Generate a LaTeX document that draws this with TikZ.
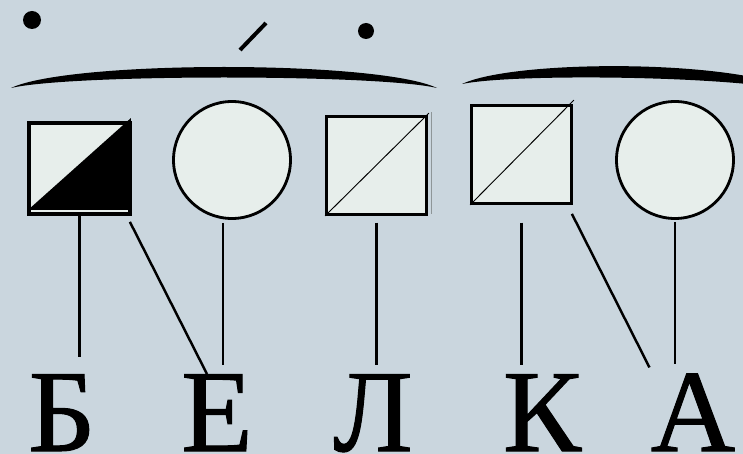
\documentclass[tikz,border=0pt]{standalone}
\usepackage{fontspec}
\setmainfont{Liberation Serif}
\newfontfamily\letterfont[FakeBold=0.9]{Liberation Serif}
\usepackage{xcolor}
\usetikzlibrary{calc}
\definecolor{cBack}{HTML}{CAD6DE}
\definecolor{cPaper}{HTML}{E7EEEB}
\definecolor{cInk}{HTML}{000000}
\definecolor{cShade}{HTML}{8E9698}
\tikzset{
  sch/sq/.style    ={draw=cInk, line width=2.4pt, fill=cPaper, inner sep=0pt,
                     minimum width=3.0cm, minimum height=2.94cm},
  sch/vow/.style   ={circle, draw=cInk, line width=2.4pt, fill=cPaper,
                     inner sep=0pt, minimum size=3.51cm},
  sch/letter/.style={font=\letterfont\fontsize{100pt}{100pt}\selectfont,
                     inner sep=0pt, anchor=base, cInk},
  sch/link/.style  ={cInk, line width=2.1pt},
  sch/diag/.style  ={cInk, line width=0.8pt},
  sch/arc/.style   ={fill=cInk},
  sch/dot/.style   ={fill=cInk}
}

\begin{document}
\begin{tikzpicture}[x=0.03cm, y=-0.03cm]
    % background and frame
    \fill[cBack] (0,0) rectangle (743,454);
    \useasboundingbox (0,0) rectangle (743,454);
    \clip (0,0) rectangle (743,454);

    % stress and syllable marks
    \fill[sch/dot] (32,20) circle (0.27cm);
    \fill[sch/dot] (366,31) circle (0.24cm);
    \draw[cInk, line width=3.4pt] (240,50) -- (266,23);
    \fill[sch/arc] (11,88) .. controls (70,60) and (378,60) .. (437,88)
                  .. controls (378,74) and (70,74) .. cycle;
    \fill[sch/arc] (462,84) .. controls (515,59) and (740,59) .. (800,92)
                  .. controls (740,76) and (515,73) .. cycle;

    % sound schema
    \node[sch/sq, minimum height=2.7cm] (sB) at (79.5,168.5) {};
    \node[sch/vow] (cE) at (232,160) {};
    \node[sch/sq] (sL) at (376.5,165.5) {};
    \node[sch/sq] (sK) at (521.5,154.5) {};
    \node[sch/vow] (cA) at (675,160) {};

    % hard/soft marks inside the squares
    \fill[cInk] ($(sB.south west)+(0,-5)$) -- ($(sB.south east)+(0,-5)$)
               -- ($(sB.north east)+(0,-4)$) -- cycle;
    \draw[cInk, line width=2.4pt] (sB.south west) rectangle (sB.north east);
    \draw[sch/diag] (sL.south west) -- ($(sL.north east)+(1,-2)$);
    \draw[cShade, line width=0.6pt] ($(sL.north east)+(3,-3)$) -- ($(sL.south east)+(3,-2)$);
    \draw[sch/diag] (sK.south west) -- ($(sK.north east)+(1,-4)$);

    % letters
    \node[sch/letter] (lB) at (62,451)  {Б};
    \node[sch/letter] (lE) at (217,451) {Е};
    \node[sch/letter] (lL) at (373,451) {Л};
    \node[sch/letter] (lK) at (542,451) {К};
    \node[sch/letter] (lA) at (693,451) {А};

    % sound-letter links
    \draw[sch/link, shorten >=0.51cm] (sB.south) -- (sB.south |- lB.north);
    \draw[sch/link] ($(sB.south east)+(-1,7)$) -- ($(lE.north)+(-10,0)$);
    \draw[sch/link, shorten >=0.27cm]
         ($(cE.south)+(-9,3)$) -- ($(cE.south |- lE.north)+(-9,0)$);
    \draw[sch/link, shorten <=0.2cm, shorten >=0.27cm] (sL.south) -- (sL.south |- lL.north);
    \draw[sch/link, shorten <=0.53cm, shorten >=0.27cm] (sK.south) -- (sK.south |- lK.north);
    \draw[sch/link] ($(sK.south east)+(-1,9)$) -- ($(lA.north west)+(-1,-6)$);
    \draw[sch/link, shorten <=0.06cm, shorten >=0.27cm] (cA.south) -- (cA.south |- lA.north);
\end{tikzpicture}
\end{document}
